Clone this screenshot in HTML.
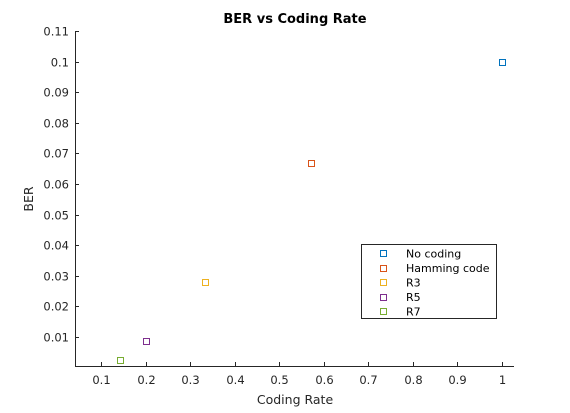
<!DOCTYPE html>
<html><head><meta charset="utf-8"><style>
html,body{margin:0;padding:0;background:#fff;}
svg{display:block;font-family:"DejaVu Sans","Liberation Sans",sans-serif;}
</style></head><body>
<svg id="chart" width="570" height="413">
<rect width="570" height="413" fill="#fff"/>
<text x="295" y="23" text-anchor="middle" font-size="13" font-weight="bold" fill="#000">BER vs Coding Rate</text>
<text x="295" y="404" text-anchor="middle" font-size="12.5" fill="#262626">Coding Rate</text>
<text transform="translate(33,199) rotate(-90)" text-anchor="middle" font-size="12.5" fill="#262626">BER</text>
<g id="axes"></g>
<g id="marks"></g>
<g id="legend"></g>
</svg>
<script>
const categories = ["No coding","Hamming code","R3","R5","R7"];
const rates = [1, 0.5714, 0.3333, 0.2, 0.1429];
const bers = [0.1, 0.0667, 0.028, 0.0088, 0.0025];
const colors = ["#0072bd","#d95319","#edb120","#7e2f8e","#77ac30"];
const xTicks = [0.1,0.2,0.3,0.4,0.5,0.6,0.7,0.8,0.9,1];
const xTickLabels = ["0.1","0.2","0.3","0.4","0.5","0.6","0.7","0.8","0.9","1"];
const yTicks = [0.01,0.02,0.03,0.04,0.05,0.06,0.07,0.08,0.09,0.1,0.11];
const yTickLabels = ["0.01","0.02","0.03","0.04","0.05","0.06","0.07","0.08","0.09","0.1","0.11"];

const L=75,R=514,T=31,B=366;
const xs = v => 101 + (v-0.1)*445.6;
const ys = v => 337 - (v-0.01)*3060;
const NS="http://www.w3.org/2000/svg";
function mk(tag,attrs,parent){const e=document.createElementNS(NS,tag);for(const k in attrs)e.setAttribute(k,attrs[k]);parent.appendChild(e);return e;}
const axes=document.getElementById('axes');
let a=mk('line',{x1:L+0.5,y1:T,x2:L+0.5,y2:B,stroke:'#262626','stroke-width':1},axes);


a=mk('line',{x1:L,y1:B+0.5,x2:R,y2:B+0.5,stroke:'#262626','stroke-width':1},axes);


xTicks.forEach((v,i)=>{
  const x=Math.round(xs(v))+0.5;
  mk('line',{x1:x,y1:B,x2:x,y2:B-4,stroke:'#262626'},axes);
  const t=mk('text',{x:x,y:B+18,'text-anchor':'middle','font-size':11.5,fill:'#262626'},axes);
  t.textContent=xTickLabels[i];
  
  
});
yTicks.forEach((v,i)=>{
  const y=Math.round(ys(v))+0.5;
  mk('line',{x1:L,y1:y,x2:L+4,y2:y,stroke:'#262626'},axes);
  const t=mk('text',{x:L-6,y:y+4,'text-anchor':'end','font-size':11.5,fill:'#262626'},axes);
  t.textContent=yTickLabels[i];
  
  
});
const marks=document.getElementById('marks');
categories.forEach((c,i)=>{
  const r=mk('rect',{x:Math.round(xs(rates[i]))-2.5,y:Math.round(ys(bers[i]))-2.5,width:6,height:6,fill:'none',stroke:colors[i],'stroke-width':1},marks);
  
  
});
const lg=document.getElementById('legend');
const box=mk('rect',{x:361.5,y:244.5,width:135,height:74,fill:'#fff',stroke:'#262626'},lg);


categories.forEach((c,i)=>{
  const y=253+i*14.5;
  mk('rect',{x:380.5,y:Math.round(y)-2.5,width:6,height:6,fill:'none',stroke:colors[i]},lg);
  const t=mk('text',{x:406,y:y+4.5,'font-size':11,fill:'#000'},lg);
  t.textContent=c;
  
  
});
</script>
</body></html>
